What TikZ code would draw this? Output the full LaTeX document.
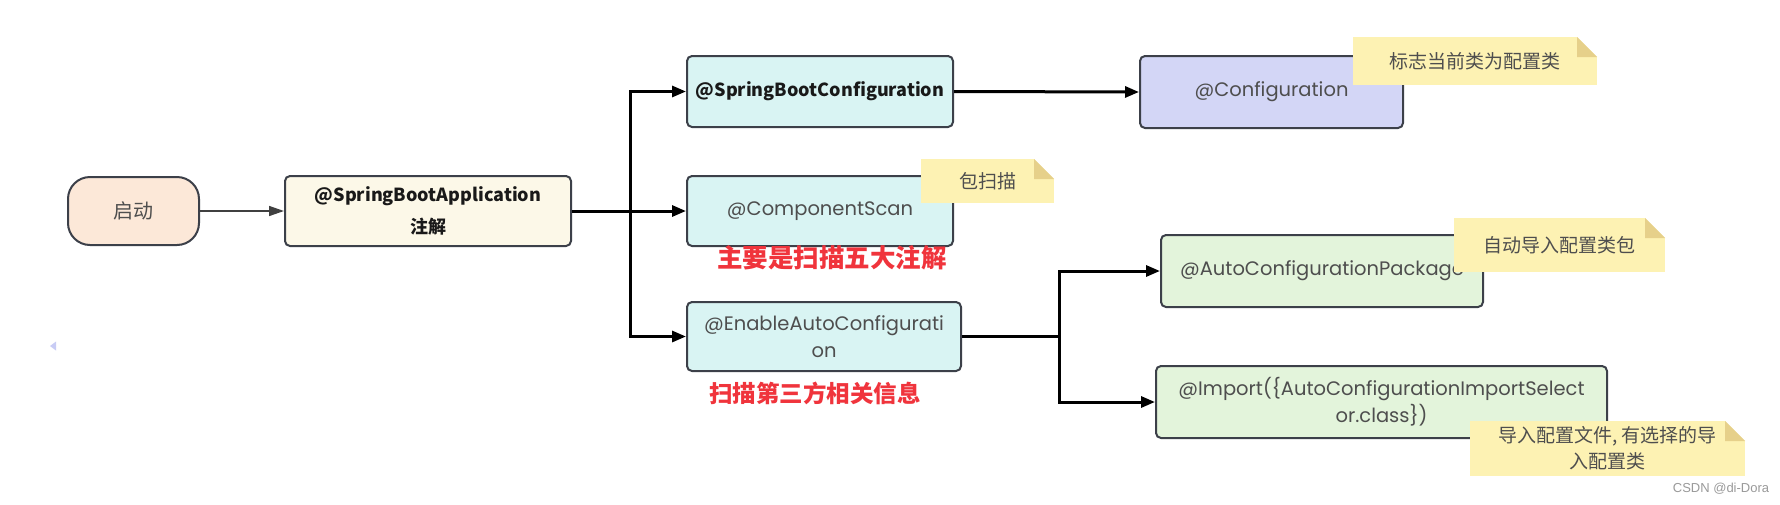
\documentclass[tikz,border=0pt]{standalone}
\usepackage{fontspec}
\setmainfont{Poppins}
\newfontfamily\lat{Poppins}
\newfontfamily\cjk{Noto Sans CJK SC}
\newfontfamily\wm{Liberation Sans}
\usetikzlibrary{arrows.meta}
\definecolor{bordercol}{HTML}{3C4049}
\definecolor{txtgray}{HTML}{4E4E4E}
\definecolor{peach}{HTML}{FCE8D8}
\definecolor{cream}{HTML}{FCF8E8}
\definecolor{cyanfill}{HTML}{D9F4F3}
\definecolor{lavfill}{HTML}{D3D6F6}
\definecolor{greenfill}{HTML}{E3F4DB}
\definecolor{notefill}{HTML}{FDF2B3}
\definecolor{notefold}{HTML}{E6D08A}
\definecolor{redtxt}{HTML}{F0343C}
\definecolor{wmgray}{HTML}{9A9A9A}
\definecolor{marker}{HTML}{C8CCF5}
\tikzset{
  box/.style={draw=bordercol, line width=2pt, rounded corners=5pt, inner sep=0pt,
    align=center, text=txtgray, font=\lat\fontsize{19.5}{27}\selectfont},
  boldbox/.style={box, text=black!90, font=\cjk\bfseries\fontsize{18}{32}\selectfont},
  note/.style={inner sep=0pt, fill=notefill, align=center, text=txtgray,
    font=\cjk\fontsize{19}{26}\selectfont,
    path picture={
      \fill[white] ([xshift=-20pt]path picture bounding box.north east) --
        (path picture bounding box.north east) --
        ([yshift=-20pt]path picture bounding box.north east) -- cycle;
      \fill[notefold] ([xshift=-20pt]path picture bounding box.north east) --
        ([yshift=-20pt]path picture bounding box.north east) --
        ([xshift=-20pt,yshift=-20pt]path picture bounding box.north east) -- cycle;}},
  redlabel/.style={text=redtxt, inner sep=0pt, font=\cjk\bfseries\fontsize{25.5}{28}\selectfont},
  conn/.style={line width=3pt, draw=black, -{Triangle[length=14pt,width=11pt]}},
  thinconn/.style={line width=1.5pt, draw=black!75, -{Triangle[length=15pt,width=10pt]}},
  trunk/.style={line width=3pt, draw=black}
}
\begin{document}
\begin{tikzpicture}[x=1pt,y=-1pt]
\useasboundingbox (0,0) rectangle (1780,504);
\fill[white] (0,0) rectangle (1780,504);

% boxes
\node[box, rounded corners=22pt, fill=peach, minimum width=131pt, minimum height=68pt,
  font=\cjk\fontsize{20}{24}\selectfont] (qd) at (133.5,211) {启动};
\node[boldbox, fill=cream, minimum width=286pt, minimum height=70pt] (sba) at (428,211)
  {@SpringBootApplication\\注解};
\node[boldbox, fill=cyanfill, minimum width=266pt, minimum height=71pt] (sbc) at (820,91.5)
  {@SpringBootConfiguration};
\node[box, fill=lavfill, minimum width=263pt, minimum height=72pt] (cfg) at (1271.5,92)
  {@Configuration};
\node[box, fill=cyanfill, minimum width=266pt, minimum height=70pt] (cs) at (820,211)
  {@ComponentScan};
\node[box, fill=cyanfill, minimum width=274pt, minimum height=69pt] (eac) at (824,336.5)
  {@EnableAutoConfigurati\\on};
\node[box, fill=greenfill, minimum width=322pt, minimum height=72pt] (acp) at (1322,271)
  {@AutoConfigurationPackage};
\node[box, fill=greenfill, minimum width=451pt, minimum height=72pt] (imp) at (1381.5,402)
  {@Import(\{AutoConfigurationImportSelect\\or.class\})};

% red labels
\node[redlabel] (r1) at (832,258) {主要是扫描五大注解};
\node[redlabel, font=\cjk\bfseries\fontsize{23.5}{28}\selectfont] (r2) at (815,393) {扫描第三方相关信息};

% connectors
\coordinate (j1) at (630,211);
\coordinate (j2) at (1059,336.5);
\draw[thinconn] (qd.east) -- (sba.west);
\draw[trunk] (sba.east) -- (j1);
\draw[conn] (j1) -- (cs.west);
\draw[conn] (j1) |- (sbc.west);
\draw[conn] (j1) |- (eac.west);
\draw[conn] (sbc.east) -- (cfg.west);
\draw[trunk] (eac.east) -- (j2);
\draw[conn] (j2) |- (acp.west);
\draw[conn] (j2) |- (imp.west);

% notes
\node[note, minimum width=244pt, minimum height=48pt] (n1) at (1475,61) {标志当前类为配置类};
\node[note, minimum width=133pt, minimum height=44pt] (n2) at (987.5,181) {包扫描};
\node[note, minimum width=211pt, minimum height=54pt] (n3) at (1559.5,245) {自动导入配置类包};
\node[note, minimum width=275pt, minimum height=55pt] (n4) at (1607.5,448.5) {导入配置文件, 有选择的导\\入配置类};

% small marker and watermark
\fill[marker] (50,346) -- (56,341.5) -- (56,350.5) -- cycle;
\node[text=wmgray, inner sep=0pt, font=\wm\fontsize{13}{15}\selectfont] (wm) at (1721,489) {CSDN @di-Dora};
\end{tikzpicture}
\end{document}
